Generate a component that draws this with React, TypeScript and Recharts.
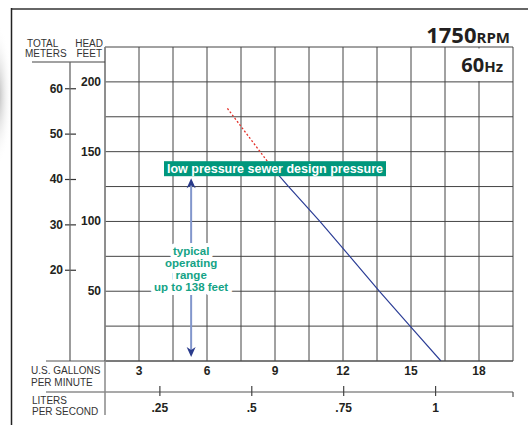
import React from 'react';
import { LineChart, Line, XAxis, YAxis, CartesianGrid, ReferenceDot, ReferenceLine } from 'recharts';

// ---- data ----
const designGpm = [6.9, 8.9];
const designFt = [181, 138];
const curveGpm = [8.9, 9.6, 10.98, 12.3, 13.6, 14.96, 16.32];
const curveFt = [138, 125, 100, 75, 50, 25, 0];

const gpmTicks = [1.5, 3, 4.5, 6, 7.5, 9, 10.5, 12, 13.5, 15, 16.5, 18, 19.5];
const gpmLabels = [3, 6, 9, 12, 15, 18];
const ftTicks = [0, 25, 50, 75, 100, 125, 150, 175, 200, 225];
const ftLabels = [50, 100, 150, 200];
const mTicks = [20, 30, 40, 50, 60];
const lpsTicks = [0.25, 0.5, 0.75, 1];
const lpsLabels = ['.25', '.5', '.75', '1'];
const rangeLines = ['typical', 'operating', 'range', 'up to 138 feet'];
const designLabel = 'low pressure sewer design pressure';

const designData = designGpm.map((g, i) => ({ gpm: g, ft: designFt[i] }));
const curveData = curveGpm.map((g, i) => ({ gpm: g, ft: curveFt[i] }));

const SANS = '"Liberation Sans", Arial, Helvetica, sans-serif';
const TEAL = '#00977c';

const GpmTick = (p: any) => {
  const v = p.payload.value;
  if (!gpmLabels.includes(v)) return <g />;
  return (
    <text x={p.x} y={p.y + 14} textAnchor="middle" fontFamily={SANS} fontWeight={700} fontSize={12} fill="#231f20">
      {v}
    </text>
  );
};

const LpsTick = (p: any) => {
  const idx = lpsTicks.indexOf(p.payload.value);
  return (
    <g>
      <line x1={p.x} x2={p.x} y1={p.y - 10} y2={p.y} stroke="#444" strokeWidth={1.2} />
      <text x={p.x} y={p.y + 16} textAnchor="middle" fontFamily={SANS} fontWeight={700} fontSize={12} fill="#231f20">
        {idx >= 0 ? lpsLabels[idx] : ''}
      </text>
    </g>
  );
};

const FtTick = (p: any) => {
  const v = p.payload.value;
  if (!ftLabels.includes(v)) return <g />;
  return (
    <text x={p.x} y={p.y + 4} textAnchor="end" fontFamily={SANS} fontWeight={700} fontSize={12} fill="#231f20">
      {v}
    </text>
  );
};

const MTick = (p: any) => (
  <g>
    <line x1={p.x} x2={p.x + 11} y1={p.y} y2={p.y} stroke="#333" strokeWidth={1.2} />
    <text x={p.x - 2} y={p.y + 4} textAnchor="end" fontFamily={SANS} fontWeight={700} fontSize={12} fill="#231f20">
      {p.payload.value}
    </text>
  </g>
);

const DesignBox = (p: any) => {
  const w = 222;
  const h = 15;
  return (
    <g>
      <rect x={p.cx - w / 2} y={p.cy - h / 2} width={w} height={h} fill={TEAL} />
      <text x={p.cx} y={p.cy + 4.5} textAnchor="middle" fontFamily={SANS} fontWeight={700} fontSize={12.5} fill="#fff">
        {designLabel}
      </text>
    </g>
  );
};

const RangeText = (p: any) => {
  const step = 12.2;
  const y0 = p.cy - 1.5 * step + 4;
  return (
    <g>
      {rangeLines.map((t, i) => (
        <text
          key={'h' + i}
          x={p.cx}
          y={y0 + i * step}
          textAnchor="middle"
          fontFamily={SANS}
          fontWeight={700}
          fontSize={11.5}
          fill="#fff"
          stroke="#fff"
          strokeWidth={8}
          strokeLinejoin="round"
        >
          {t}
        </text>
      ))}
      {rangeLines.map((t, i) => (
        <text
          key={'t' + i}
          x={p.cx}
          y={y0 + i * step}
          textAnchor="middle"
          fontFamily={SANS}
          fontWeight={700}
          fontSize={11.5}
          fill="#14a386"
        >
          {t}
        </text>
      ))}
    </g>
  );
};

const ArrowUp = (p: any) => (
  <path d={`M${p.cx} ${p.cy} L${p.cx + 4.5} ${p.cy + 10} L${p.cx} ${p.cy + 7} L${p.cx - 4.5} ${p.cy + 10} Z`} fill="#2a3b8c" />
);
const ArrowDown = (p: any) => (
  <path d={`M${p.cx} ${p.cy} L${p.cx + 4.5} ${p.cy - 10} L${p.cx} ${p.cy - 7} L${p.cx - 4.5} ${p.cy - 10} Z`} fill="#2a3b8c" />
);

export default function App() {
  return (
    <div style={{ position: 'absolute', left: 0, top: 0, width: 528, height: 425, background: '#fff' }}>
      <LineChart width={528} height={425} margin={{ top: 47, right: 15, bottom: 0, left: 0 }}>
        <CartesianGrid xAxisId="g" yAxisId="ft" stroke="#444" strokeWidth={1} />
        <XAxis
          xAxisId="g"
          dataKey="gpm"
          type="number"
          domain={[1.5, 19.5]}
          ticks={gpmTicks}
          allowDataOverflow
          height={31}
          axisLine={{ stroke: '#555', strokeWidth: 1.2 }}
          tickLine={false}
          tickSize={0}
          tickMargin={0}
          tick={<GpmTick />}
          interval={0}
        />
        <XAxis
          xAxisId="l"
          dataKey="lps"
          type="number"
          domain={[0.1007, 1.2106]}
          ticks={lpsTicks}
          allowDataOverflow
          height={33}
          axisLine={{ stroke: '#555', strokeWidth: 1.2 }}
          tickLine={false}
          tickSize={4}
          tickMargin={0}
          tick={<LpsTick />}
          interval={0}
        />
        <YAxis
          yAxisId="ft"
          type="number"
          domain={[0, 225]}
          ticks={ftTicks}
          allowDataOverflow
          width={35}
          axisLine={{ stroke: '#888', strokeWidth: 1.5 }}
          tickLine={false}
          tickSize={0}
          tickMargin={4}
          tick={<FtTick />}
          interval={0}
        />
        <YAxis
          yAxisId="m"
          type="number"
          domain={[0, 69.2]}
          ticks={mTicks}
          allowDataOverflow
          width={70}
          axisLine={false}
          tickLine={false}
          tickSize={5}
          tickMargin={0}
          tick={<MTick />}
          interval={0}
        />
        <Line
          xAxisId="g"
          yAxisId="ft"
          data={designData}
          dataKey="ft"
          type="linear"
          stroke="#e5322b"
          strokeWidth={1.3}
          strokeDasharray="2 2"
          dot={false}
          isAnimationActive={false}
        />
        <Line
          xAxisId="g"
          yAxisId="ft"
          data={curveData}
          dataKey="ft"
          type="linear"
          stroke="#2b3d96"
          strokeWidth={1.2}
          dot={false}
          isAnimationActive={false}
        />
        <ReferenceLine
          xAxisId="g"
          yAxisId="ft"
          segment={[{ x: 5.3, y: 129 }, { x: 5.3, y: 5 }]}
          stroke="#8296cc"
          strokeWidth={2}
        />
        <ReferenceDot xAxisId="g" yAxisId="ft" x={5.3} y={131} r={1} shape={<ArrowUp />} />
        <ReferenceDot xAxisId="g" yAxisId="ft" x={5.3} y={2.9} r={1} shape={<ArrowDown />} />
        <ReferenceDot xAxisId="g" yAxisId="ft" x={5.3} y={66} r={1} shape={<RangeText />} />
        <ReferenceDot xAxisId="g" yAxisId="ft" x={9.0} y={137.8} r={1} shape={<DesignBox />} />
      </LineChart>
      <svg
        width={528}
        height={425}
        style={{ position: 'absolute', left: 0, top: 0, pointerEvents: 'none' }}
      >
        <defs>
          <radialGradient id="shadowGrad" cx="0.5" cy="0.5" r="0.5">
            <stop offset="0%" stopColor="#b0b0b0" stopOpacity={0.9} />
            <stop offset="100%" stopColor="#ffffff" stopOpacity={0} />
          </radialGradient>
        </defs>
        <ellipse cx={-2} cy={95} rx={14} ry={70} fill="url(#shadowGrad)" />
        <line x1={11} x2={528} y1={9} y2={9} stroke="#666" strokeWidth={2} />
        <line x1={11.5} x2={11.5} y1={8} y2={425} stroke="#222" strokeWidth={1.5} />
        <text x={27} y={47} fontFamily={SANS} fontSize={10} fill="#333">TOTAL</text>
        <text x={103} y={47} textAnchor="end" fontFamily={SANS} fontSize={10} fill="#333">HEAD</text>
        <text x={25} y={57} fontFamily={SANS} fontSize={10} fill="#333">METERS</text>
        <text x={102} y={57} textAnchor="end" fontFamily={SANS} fontSize={10} fill="#333">FEET</text>
        <line x1={32} x2={105} y1={62} y2={62} stroke="#444" strokeWidth={1.2} />
        <line x1={70} x2={70} y1={62} y2={361} stroke="#666" strokeWidth={1.3} />
        <line x1={46} x2={105} y1={361} y2={361} stroke="#555" strokeWidth={1.2} />
        <line x1={46} x2={105} y1={392} y2={392} stroke="#555" strokeWidth={1.2} />
        <line x1={105} x2={105} y1={361} y2={415} stroke="#888" strokeWidth={1.5} />
        <line x1={513} x2={513} y1={392} y2={397} stroke="#555" strokeWidth={1.2} />
        <text x={31} y={374} fontFamily={SANS} fontSize={10} fill="#333">U.S. GALLONS</text>
        <text x={31} y={386} fontFamily={SANS} fontSize={10} fill="#333">PER MINUTE</text>
        <text x={32} y={404} fontFamily={SANS} fontSize={10} fill="#333">LITERS</text>
        <text x={32} y={415} fontFamily={SANS} fontSize={10} fill="#333">PER SECOND</text>
        <text x={510} y={43} textAnchor="end" fontFamily='"Open Sans", sans-serif' fontWeight={700} fill="#231f20">
          <tspan fontSize={22}>1750</tspan>
          <tspan fontSize={15}>RPM</tspan>
        </text>
        <rect x={447} y={48.5} width={65} height={32.5} fill="#fff" />
        <text x={503} y={72} textAnchor="end" fontFamily='"Open Sans", sans-serif' fontWeight={700} fill="#231f20">
          <tspan fontSize={20}>60</tspan>
          <tspan fontSize={15}>Hz</tspan>
        </text>
      </svg>
    </div>
  );
}
